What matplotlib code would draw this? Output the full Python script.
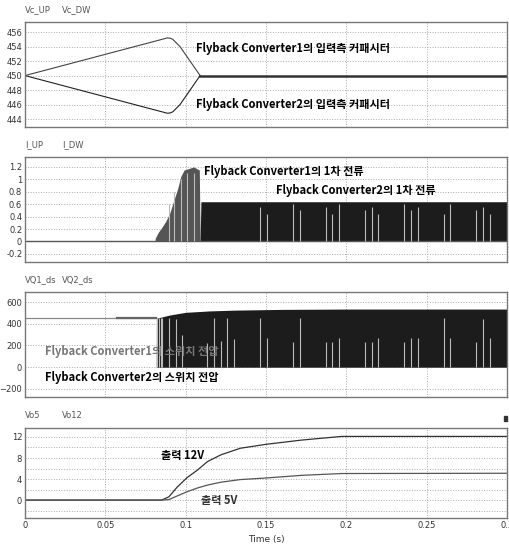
import numpy as np
import matplotlib.pyplot as plt
from matplotlib.patches import Rectangle

plt.rcParams['font.family'] = ['Liberation Sans Narrow', 'DejaVu Sans']
KR = ['Noto Sans CJK KR', 'DejaVu Sans']

# ---- panel 1: input capacitor voltages
t_cap = [0, 0.0886, 0.0905, 0.092, 0.0965, 0.109, 0.3]
vc_up = [450, 455.2, 455.15, 455.0, 454.0, 450, 450]
vc_dw = [450, 444.8, 444.85, 445.0, 446.0, 450, 450]

# ---- panel 2: primary currents (pulse envelopes)
t_iup = [0.081, 0.083, 0.085, 0.0875, 0.09, 0.0925, 0.095, 0.097, 0.099, 0.105, 0.1085, 0.109]
i_up = [0.05, 0.15, 0.22, 0.32, 0.45, 0.65, 0.85, 1.05, 1.15, 1.2, 1.15, 0]
t_idw = [0.109, 0.1095, 0.3]
i_dw = [0.0, 0.64, 0.64]
gap_iup = [0.0896, 0.0927, 0.0969, 0.101, 0.1052]

# ---- panel 3: switch voltages
t_vq = [0.0817, 0.0818, 0.09, 0.1, 0.115, 0.13, 0.16, 0.2, 0.3]
vq_env = [0, 450, 480, 505, 518, 525, 532, 535, 535]
gap_t = [0.0823, 0.0833, 0.0844, 0.0854, 0.0896, 0.0938, 0.0979, 0.1135, 0.1177,
         0.1219, 0.126, 0.1302, 0.1465, 0.1506, 0.1671, 0.1713, 0.1871, 0.1913,
         0.1954, 0.2117, 0.2158, 0.2200, 0.2361, 0.2402, 0.2444, 0.2606, 0.2648,
         0.2808, 0.2850, 0.2892]
gap_vq = [450, 450, 450, 450, 450, 440, 300, 223, 450, 240, 450, 260, 450, 266,
          235, 450, 235, 235, 266, 235, 235, 266, 235, 266, 266, 450, 266, 235,
          445, 266]
gap_idw = [0.55, 0.45, 0.6, 0.5, 0.55, 0.45, 0.6, 0.5, 0.55, 0.45, 0.6, 0.5,
           0.55, 0.45, 0.6, 0.5, 0.55, 0.45]

# ---- panel 4: output voltages
t_out = [0, 0.085, 0.0896, 0.0948, 0.101, 0.1073, 0.1135, 0.1219, 0.134, 0.15,
         0.172, 0.197, 0.3]
vo12 = [0, 0, 0.63, 2.5, 4.3, 5.7, 7.3, 8.6, 9.85, 10.6, 11.4, 12.1, 12.1]
vo5 = [0, 0, 0.1, 0.8, 1.6, 2.3, 2.85, 3.4, 3.9, 4.2, 4.7, 5.05, 5.1]

xticks = [0, 0.05, 0.1, 0.15, 0.2, 0.25, 0.3]
xticklabels = ['0', '0.05', '0.1', '0.15', '0.2', '0.25', '0.3']

fig = plt.figure(figsize=(5.09, 5.49), dpi=100)
W, H = 509, 549
L, R = 25, 507
boxes = [(22, 127), (157, 262), (292, 397), (428, 518)]
axes = []
for top, bot in boxes:
    ax = fig.add_axes([L / W, 1 - bot / H, (R - L) / W, (bot - top) / H])
    ax.set_xlim(0, 0.3)
    ax.set_xticks(xticks)
    ax.tick_params(length=0, labelsize=6, labelcolor='#333333', pad=2)
    for s in ax.spines.values():
        s.set_color('#777777')
        s.set_linewidth(1.0)
    ax.grid(True, which='both', color='#aaaaaa', linestyle=':', linewidth=0.7)
    ax.set_axisbelow(True)
    axes.append(ax)
for ax in axes[:3]:
    ax.set_xticklabels([])

names = [('Vc_UP', 'Vc_DW'), ('I_UP', 'I_DW'), ('VQ1_ds', 'VQ2_ds'), ('Vo5', 'Vo12')]
for (top, bot), (n1, n2) in zip(boxes, names):
    fig.text(25 / W, 1 - (top - 12) / H, n1, fontsize=6, color='#555555', va='center')
    fig.text(62 / W, 1 - (top - 12) / H, n2, fontsize=6, color='#555555', va='center')

kw = dict(family=KR, fontsize=8, fontweight='bold', va='center')

# panel 1
ax = axes[0]
ax.set_ylim(442.9, 457.4)
ax.set_yticks(range(444, 457, 2))
ax.plot(t_cap[:6], vc_up[:6], color='#444444', lw=0.8)
ax.plot(t_cap[:6], vc_dw[:6], color='#222222', lw=0.8)
ax.plot(t_cap[5:], vc_up[5:], color='#333333', lw=1.8)
ax.text(0.1067, 453.7, 'Flyback Converter1의 입력측 커패시터', **kw)
ax.text(0.1067, 446.0, 'Flyback Converter2의 입력측 커패시터', **kw)

# panel 2
ax = axes[1]
ax.set_ylim(-0.33, 1.36)
ax.set_yticks([-0.2, 0, 0.2, 0.4, 0.6, 0.8, 1, 1.2])
ax.set_yticklabels(['-0.2', '0', '0.2', '0.4', '0.6', '0.8', '1', '1.2'])
ax.axhline(0, color='#555555', lw=1.0)
ax.fill_between(t_iup, 0, i_up, color='#555555', lw=0)
ax.fill_between(t_idw, 0, i_dw, color='#1c1c1c', lw=0)
ax.vlines(gap_iup, 0, [0.6, 0.8, 1.0, 1.1, 1.1], color='#bbbbbb', lw=0.8)
ax.vlines(gap_t[12:], 0, gap_idw, color='#bbbbbb', lw=0.8)
ax.text(0.1112, 1.12, 'Flyback Converter1의 1차 전류', **kw)
ax.text(0.156, 0.82, 'Flyback Converter2의 1차 전류', **kw)

# panel 3
ax = axes[2]
ax.set_ylim(-274, 692)
ax.set_yticks([-200, 0, 200, 400, 600])
ax.plot([0, 0.0817], [450, 450], color='#888888', lw=0.9)
ax.plot([0.057, 0.0817], [450, 450], color='#666666', lw=1.6)
ax.fill_between(t_vq, 0, vq_env, color='#1c1c1c', lw=0)
ax.vlines(gap_t, 0, gap_vq, color='#bbbbbb', lw=0.8)
ax.text(0.0125, 140, 'Flyback Converter1의 스위치 전압', color='#777777', **kw)
ax.text(0.0125, -95, 'Flyback Converter2의 스위치 전압', color='black', **kw)

# panel 4
ax = axes[3]
ax.set_ylim(-3.4, 13.7)
ax.set_yticks([0, 4, 8, 12])
ax.set_yticks(range(-2, 13, 2), minor=True)
ax.tick_params(which='minor', length=0)
ax.plot(t_out, vo12, color='#333333', lw=0.9)
ax.plot(t_out, vo5, color='#555555', lw=0.9)
ax.set_xticklabels(xticklabels)
ax.set_xlabel('Time (s)', fontsize=6.5, color='#333333', labelpad=4)
ax.text(0.0845, 8.5, '출력 12V', **kw)
ax.text(0.1095, 0.0, '출력 5V', color='#333333', **kw)

fig.patches.append(Rectangle((504 / W, 1 - 421 / H), 3 / W, 5 / H,
                             transform=fig.transFigure, color='#333333'))

fig.savefig('out.png', dpi=100)
